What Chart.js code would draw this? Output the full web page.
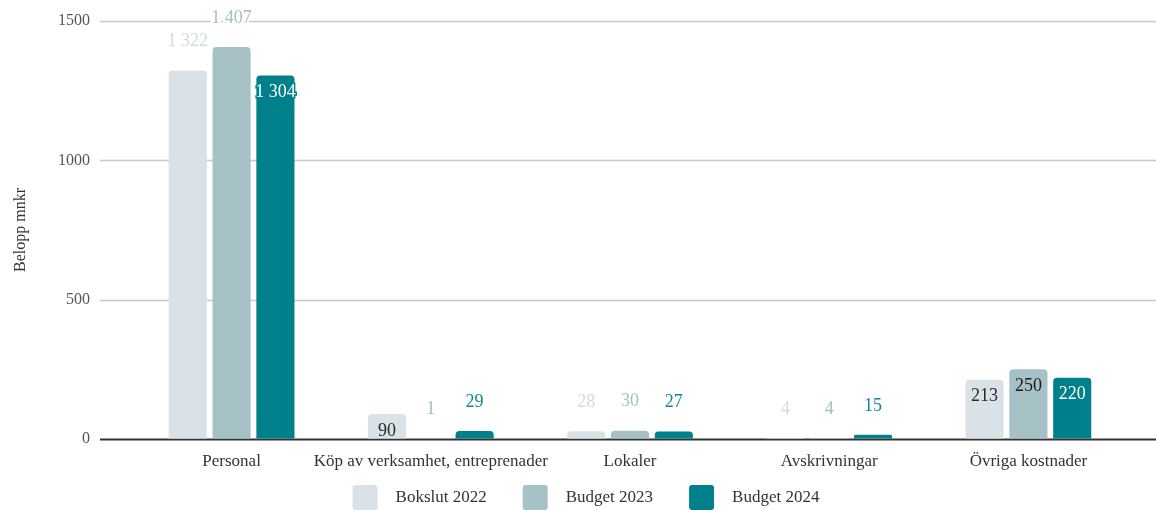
<!DOCTYPE html>
<html>
<head>
<meta charset="utf-8">
<script src="https://cdn.jsdelivr.net/npm/chart.js@4"></script>
<style>
  html, body { margin: 0; padding: 0; background: #fff; }
</style>
</head>
<body>
<canvas id="grafico" width="1156" height="510"></canvas>
<script>
const kategorier = ["Personal", "Köp av verksamhet, entreprenader", "Lokaler", "Avskrivningar", "Övriga kostnader"];
const bokslut2022 = [1322, 90, 28, 4, 213];
const budget2023 = [1407, 1, 30, 4, 250];
const budget2024 = [1304, 29, 27, 15, 220];
const yTicks = [0, 500, 1000, 1500];

// vilka etiketter som ligger inne i stapeln
const inuti = [
  [false, true, false, false, true],
  [false, false, false, false, true],
  [true, false, false, false, true]
];

const farger = ["#d9e3e7", "#a7c2c7", "#00808a"];
const textFarger = ["#cfdce1", "#a3bfc4", "#10879a"];
const inneFarger = ["#2a2a2a", "#1a1a1a", "#ffffff"];
const serif = "'Liberation Serif', 'Times New Roman', serif";

function formatera(v) {
  return String(v).replace(/\B(?=(\d{3})+(?!\d))/g, " ");
}

// rutnät som går utanför plottytan
const rutnat = {
  id: "rutnat",
  beforeDatasetsDraw(chart) {
    const ctx = chart.ctx;
    const y = chart.scales.y;
    ctx.save();
    yTicks.forEach(function (t) {
      const py = Math.round(y.getPixelForValue(t)) + 0.5;
      ctx.beginPath();
      ctx.strokeStyle = t === 0 ? "#333" : "#c8c8c8";
      ctx.lineWidth = t === 0 ? 2 : 1.3;
      ctx.moveTo(100, py);
      ctx.lineTo(chart.width, py);
      ctx.stroke();
    });
    ctx.restore();
  }
};

// etiketter
const etiketter = {
  id: "etiketter",
  afterDatasetsDraw(chart) {
    const ctx = chart.ctx;
    ctx.save();
    ctx.font = "18px " + serif;
    ctx.textAlign = "center";
    ctx.textBaseline = "middle";
    chart.data.datasets.forEach(function (ds, d) {
      const meta = chart.getDatasetMeta(d);
      meta.data.forEach(function (bar, i) {
        const text = formatera(ds.data[i]);
        if (inuti[d][i]) {
          const ty = bar.y + 17;
          if (d === 2) {
            ctx.lineWidth = 3;
            ctx.strokeStyle = farger[2];
            ctx.strokeText(text, bar.x, ty);
          }
          ctx.fillStyle = inneFarger[d];
          ctx.fillText(text, bar.x, ty);
        } else {
          const ty = bar.y - 29;
          ctx.lineWidth = 4;
          ctx.strokeStyle = "#ffffff";
          ctx.strokeText(text, bar.x, ty);
          ctx.fillStyle = textFarger[d];
          ctx.fillText(text, bar.x, ty);
        }
      });
    });
    ctx.restore();
  }
};

// egen förklaring längst ner
const forklaring = {
  id: "forklaring",
  afterDraw(chart) {
    const ctx = chart.ctx;
    ctx.save();
    ctx.font = "17px " + serif;
    ctx.textBaseline = "middle";
    const box = 25, gap = 18, mellan = 36;
    const sets = chart.data.datasets;
    let total = 0;
    sets.forEach(function (ds, i) {
      total += box + gap + ctx.measureText(ds.label).width + (i < sets.length - 1 ? mellan : 0);
    });
    let x = (chart.width - total) / 2 + 8;
    const top = chart.height - box;
    sets.forEach(function (ds) {
      ctx.fillStyle = ds.backgroundColor;
      ctx.beginPath();
      ctx.roundRect(x, top, box, box, 3);
      ctx.fill();
      x += box + gap;
      ctx.fillStyle = "#333";
      ctx.fillText(ds.label, x, top + box / 2);
      x += ctx.measureText(ds.label).width + mellan;
    });
    ctx.restore();
  }
};

const ctx = document.getElementById("grafico").getContext("2d");

new Chart(ctx, {
  type: "bar",
  data: {
    labels: kategorier,
    datasets: [
      { label: "Bokslut 2022", data: bokslut2022, backgroundColor: farger[0] },
      { label: "Budget 2023", data: budget2023, backgroundColor: farger[1] },
      { label: "Budget 2024", data: budget2024, backgroundColor: farger[2] }
    ].map(function (ds) {
      ds.borderRadius = 4;
      ds.categoryPercentage = 0.66;
      ds.barPercentage = 0.87;
      return ds;
    })
  },
  options: {
    responsive: false,
    animation: false,
    devicePixelRatio: 1,
    layout: { padding: { top: 21, right: 28, left: 11, bottom: 0 } },
    plugins: {
      legend: { display: false },
      tooltip: { enabled: false }
    },
    scales: {
      x: {
        afterFit: function (scale) { scale.height = 71; },
        grid: { display: false, drawTicks: false },
        border: { display: false },
        ticks: {
          color: "#333",
          padding: 12,
          maxRotation: 0,
          autoSkip: false,
          font: { family: serif, size: 17 }
        }
      },
      y: {
        min: 0,
        max: 1500,
        afterFit: function (scale) { scale.width = 121; },
        afterBuildTicks: function (scale) {
          scale.ticks = yTicks.map(function (v) { return { value: v }; });
        },
        grid: { display: true, drawOnChartArea: false, drawTicks: true, tickLength: 32, color: "rgba(0,0,0,0)" },
        border: { display: false },
        ticks: {
          color: "#555",
          padding: 10,
          font: { family: serif, size: 16 },
          callback: function (v) { return String(v); }
        },
        title: {
          display: true,
          text: "Belopp mnkr",
          color: "#333",
          padding: { top: 0, bottom: 0 },
          font: { family: serif, size: 16 }
        }
      }
    }
  },
  plugins: [rutnat, etiketter, forklaring]
});
</script>
</body>
</html>
